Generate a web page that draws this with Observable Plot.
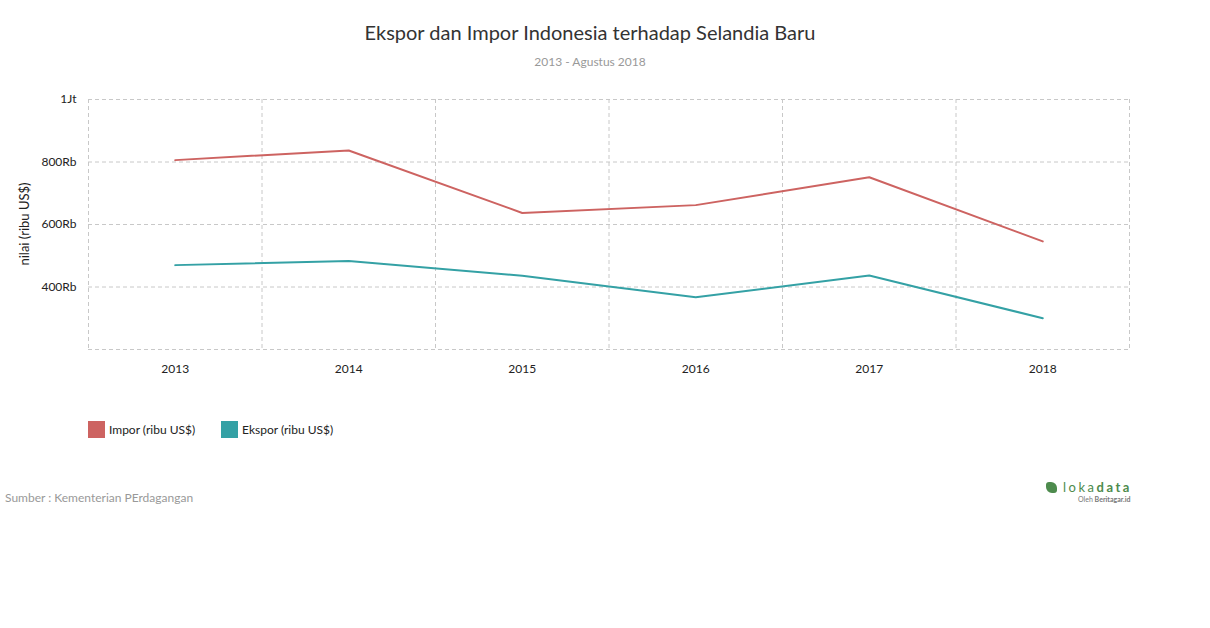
<!DOCTYPE html>
<html>
<head>
<meta charset="utf-8">
<script src="https://cdn.jsdelivr.net/npm/d3@7"></script>
<script src="https://cdn.jsdelivr.net/npm/@observablehq/plot@0.6"></script>
<style>
  body { margin: 0; background: #fff; font-family: Lato, "Open Sans", sans-serif; width: 1210px; height: 628px; position: relative; overflow: hidden; }
  .abs { position: absolute; white-space: nowrap; }
  #title { top: 20px; left: 0; width: 1180px; text-align: center; font-size: 20px; color: #333; }
  #subtitle { top: 54px; left: 0; width: 1180px; text-align: center; font-size: 12px; color: #999; }
  #chart { top: 85px; left: 0; }
  #ylabel { top: 224px; left: 24px; font-size: 13px; color: #222; transform: translate(-50%, -50%) rotate(-90deg); }
  .leg { top: 421px; font-size: 12px; color: #222; display: flex; align-items: center; }
  .sw { width: 17px; height: 17px; display: inline-block; margin-right: 4px; }
  #source { top: 490px; left: 5px; font-size: 12px; color: #999; }
  #logo { top: 479px; left: 1046px; color: #4d8b4d; }
  #logo .main { font-size: 13px; letter-spacing: 2.5px; display: flex; align-items: center; }
  #logo .icon { width: 11px; height: 11px; background: #4d8b4d; border-radius: 3px 6px 3px 6px; margin-right: 6px; display: inline-block; }
  #logo .sub { font-size: 7px; color: #777; margin-left: 32px; margin-top: 0px; }
</style>
</head>
<body>
<div id="title" class="abs">Ekspor dan Impor Indonesia terhadap Selandia Baru</div>
<div id="subtitle" class="abs">2013 - Agustus 2018</div>
<div id="chart" class="abs"></div>
<div id="ylabel" class="abs">nilai (ribu US$)</div>
<div class="abs leg" style="left:88px"><span class="sw" style="background:#cd6361"></span>Impor (ribu US$)</div>
<div class="abs leg" style="left:221px"><span class="sw" style="background:#34a1a5"></span>Ekspor (ribu US$)</div>
<div id="source" class="abs">Sumber : Kementerian PErdagangan</div>
<div id="logo" class="abs"><div class="main"><span class="icon"></span>loka<b>data</b></div><div class="sub">Oleh <b>Beritagar.id</b></div></div>
<script>
const years = [2013, 2014, 2015, 2016, 2017, 2018];
const impor = [806000, 837000, 637000, 662000, 751000, 546000];
const ekspor = [470000, 483000, 436000, 367000, 437000, 300000];
const yGrid = [200000, 400000, 600000, 800000, 1000000];
const yTicks = [400000, 600000, 800000, 1000000];
const yTickLabels = ["400Rb", "600Rb", "800Rb", "1Jt"];
const seriesNames = ["Impor (ribu US$)", "Ekspor (ribu US$)"];
const colors = ["#cd6361", "#34a1a5"];

const xGrid = years.map(y => y - 0.5).concat([years[years.length - 1] + 0.5]);
const imporData = years.map((y, i) => ({year: y, value: impor[i]}));
const eksporData = years.map((y, i) => ({year: y, value: ekspor[i]}));
const labelMap = new Map(yTicks.map((t, i) => [t, yTickLabels[i]]));

const chart = Plot.plot({
  width: 1210,
  height: 300,
  marginTop: 14,
  marginBottom: 36,
  marginLeft: 88,
  marginRight: 81,
  style: {fontFamily: "Lato, sans-serif", fontSize: "12px", color: "#222", background: "transparent", overflow: "visible"},
  x: {domain: [years[0] - 0.5, years[years.length - 1] + 0.5]},
  y: {domain: [yGrid[0], yGrid[yGrid.length - 1]]},
  marks: [
    Plot.ruleY(yGrid, {stroke: "#c8c8c8", strokeDasharray: "4,3", strokeWidth: 1}),
    Plot.ruleX(xGrid, {stroke: "#c8c8c8", strokeDasharray: "4,3", strokeWidth: 1}),
    Plot.axisX({ticks: years, tickFormat: d => String(d), tickSize: 0, tickPadding: 15, label: null, fill: "#222"}),
    Plot.axisY({ticks: yTicks, tickFormat: d => labelMap.get(d), tickSize: 0, tickPadding: 12, label: null, fill: "#222"}),
    Plot.line(imporData, {x: "year", y: "value", stroke: colors[0], strokeWidth: 2}),
    Plot.line(eksporData, {x: "year", y: "value", stroke: colors[1], strokeWidth: 2})
  ]
});
document.getElementById("chart").appendChild(chart);
</script>
</body>
</html>
